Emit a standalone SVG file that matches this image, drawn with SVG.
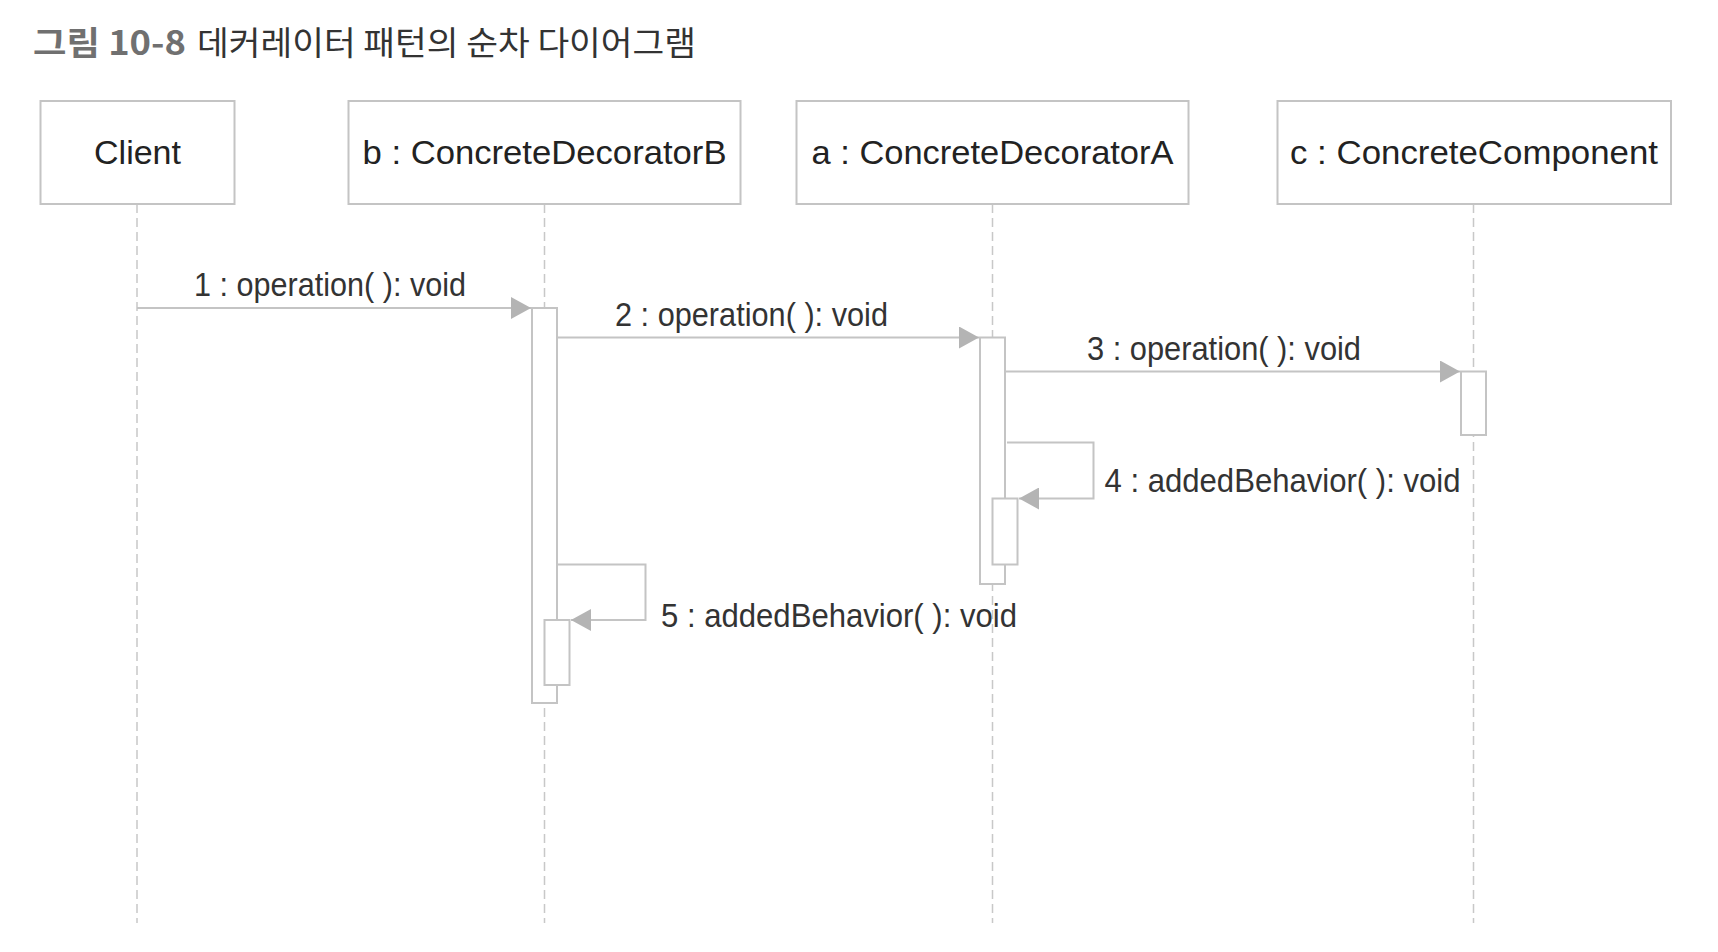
<svg xmlns="http://www.w3.org/2000/svg" width="1718" height="952" viewBox="0 0 1718 952">
<style>
.box{fill:#fff;stroke:#c4c4c4;stroke-width:2}
.act{fill:#fff;stroke:#c4c4c4;stroke-width:2}
.life{stroke:#c8c8c8;stroke-width:1.5;stroke-dasharray:9 5;fill:none}
.msg{stroke:#c4c4c4;stroke-width:2;fill:none}
.lbl{font-family:"Liberation Sans",Arial,sans-serif;font-size:33px;fill:#333}
.name{font-family:"Liberation Sans",Arial,sans-serif;font-size:34px;fill:#222;text-anchor:middle}
.t1{font-family:"Noto Sans CJK KR","Noto Sans",sans-serif;font-size:33px;font-weight:bold;fill:#707070}
.t2{font-family:"Noto Sans CJK KR","Noto Sans",sans-serif;font-size:33px;fill:#333}
</style>
<defs>
<marker id="arr" viewBox="0 0 20 22" refX="20" refY="11" markerWidth="20" markerHeight="22" markerUnits="userSpaceOnUse" orient="auto">
<path d="M0,0 L20,11 L0,22 Z" fill="#b4b4b4"/>
</marker>
</defs>
<rect width="1718" height="952" fill="#fff"/>
<g id="title">
<text class="t1" x="33" y="55" textLength="153" lengthAdjust="spacingAndGlyphs">그림 10-8</text>
<text class="t2" x="197" y="55" textLength="499" lengthAdjust="spacingAndGlyphs">데커레이터 패턴의 순차 다이어그램</text>
</g>
<g id="lifelines">
<line class="life" x1="137" y1="204" x2="137" y2="923"/>
<line class="life" x1="544.5" y1="204" x2="544.5" y2="923"/>
<line class="life" x1="992.5" y1="204" x2="992.5" y2="923"/>
<line class="life" x1="1473.5" y1="204" x2="1473.5" y2="923"/>
</g>
<g id="client">
<rect class="box" x="40.5" y="101" width="194" height="103"/>
<text class="name" x="137.5" y="164">Client</text>
</g>
<g id="decoratorB">
<rect class="box" x="348.5" y="101" width="392" height="103"/>
<text class="name" x="544.5" y="164" textLength="364" lengthAdjust="spacingAndGlyphs">b : ConcreteDecoratorB</text>
<rect class="act" x="532" y="308" width="25" height="395"/>
<rect class="act" x="544.5" y="620" width="25" height="65"/>
</g>
<g id="decoratorA">
<rect class="box" x="796.5" y="101" width="392" height="103"/>
<text class="name" x="992.5" y="164" textLength="362" lengthAdjust="spacingAndGlyphs">a : ConcreteDecoratorA</text>
<rect class="act" x="980" y="337.5" width="25" height="246.5"/>
<rect class="act" x="992.5" y="498.5" width="25" height="66"/>
</g>
<g id="component">
<rect class="box" x="1277.5" y="101" width="393.5" height="103"/>
<text class="name" x="1474" y="164" textLength="368" lengthAdjust="spacingAndGlyphs">c : ConcreteComponent</text>
<rect class="act" x="1461" y="371.5" width="25" height="63.5"/>
</g>
<g id="connectors">
<line class="msg" x1="137" y1="308" x2="531" y2="308" marker-end="url(#arr)"/>
<line class="msg" x1="557" y1="337.5" x2="979" y2="337.5" marker-end="url(#arr)"/>
<line class="msg" x1="1005" y1="371.5" x2="1460" y2="371.5" marker-end="url(#arr)"/>
<polyline class="msg" points="1007,442.5 1093.5,442.5 1093.5,498.5 1019,498.5" marker-end="url(#arr)"/>
<polyline class="msg" points="558,564.5 645.5,564.5 645.5,620 571,620" marker-end="url(#arr)"/>
<text class="lbl" x="194" y="296" textLength="272" lengthAdjust="spacingAndGlyphs">1 : operation( ): void</text>
<text class="lbl" x="615" y="325.5" textLength="273" lengthAdjust="spacingAndGlyphs">2 : operation( ): void</text>
<text class="lbl" x="1087" y="359.5" textLength="274" lengthAdjust="spacingAndGlyphs">3 : operation( ): void</text>
<text class="lbl" x="1104.5" y="492" textLength="356" lengthAdjust="spacingAndGlyphs">4 : addedBehavior( ): void</text>
<text class="lbl" x="661" y="627" textLength="356" lengthAdjust="spacingAndGlyphs">5 : addedBehavior( ): void</text>
</g>
</svg>
